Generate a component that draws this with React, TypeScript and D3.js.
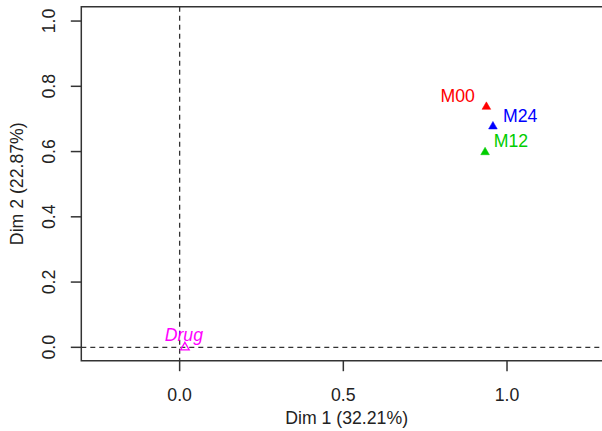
import React from "react";
import * as d3 from "d3";

const labels = ["M00", "M24", "M12", "Drug"];
const dim1 = [0.937, 0.957, 0.933, 0.016];
const dim2 = [0.737, 0.677, 0.598, 0.0];
const colors = ["#FF0000", "#0000FF", "#00CD00", "#FF00FF"];
const filled = [true, true, true, false];
const xTicks = [0, 0.5, 1.0];
const yTicks = [0, 0.2, 0.4, 0.6, 0.8, 1.0];
const xTitle = "Dim 1 (32.21%)";
const yTitle = "Dim 2 (22.87%)";

// label offsets (px) and anchors – styling only
const labelDx = [-11.5, 10, 8.7, -1];
const labelDy = [-5, -4.8, -4.9, -6.6];
const labelAnchor = ["end", "start", "start", "middle"];
const labelItalic = [false, false, false, true];

const W = 602;
const H = 431;
const left = 81.3;
const right = 612;
const top = 6.7;
const bottom = 360.7;
const font = "'Liberation Sans', Arial, sans-serif";
const fs = 17.7;

export default function App() {
  const x = d3.scaleLinear().domain([-0.3004, 1.3207]).range([left, right]);
  const y = d3.scaleLinear().domain([-0.041, 1.044]).range([bottom, top]);
  const tri = d3.symbol().type(d3.symbolTriangle).size(32.5)();
  const axisColor = "#333";
  return (
    <svg
      width={W}
      height={H}
      style={{ position: "fixed", left: 0, top: 0, background: "#fff" }}
      fontFamily={font}
    >
      <rect x={0} y={0} width={W} height={H} fill="#fff" />
      {/* dashed reference lines */}
      <line x1={left} x2={right} y1={y(0)} y2={y(0)} stroke={axisColor} strokeWidth={1.3} strokeDasharray="5,4" />
      <line x1={x(0)} x2={x(0)} y1={top} y2={bottom} stroke={axisColor} strokeWidth={1.3} strokeDasharray="5,4" />
      {/* box */}
      <path
        d={`M${right},${top}H${left}V${bottom}H${right}`}
        fill="none"
        stroke={axisColor}
        strokeWidth={1.5}
      />
      {/* x ticks */}
      {xTicks.map((t) => (
        <g key={"xt" + t}>
          <line x1={x(t)} x2={x(t)} y1={bottom} y2={bottom + 10.5} stroke={axisColor} strokeWidth={1.5} />
          <text x={x(t)} y={400.7} textAnchor="middle" fontSize={fs} fill="#222">
            {d3.format(".1f")(t)}
          </text>
        </g>
      ))}
      {/* y ticks */}
      {yTicks.map((t) => (
        <g key={"yt" + t}>
          <line x1={left} x2={left - 10.5} y1={y(t)} y2={y(t)} stroke={axisColor} strokeWidth={1.5} />
          <text
            transform={`translate(55,${y(t)}) rotate(-90)`}
            textAnchor="middle"
            fontSize={fs}
            fill="#222"
          >
            {d3.format(".1f")(t)}
          </text>
        </g>
      ))}
      {/* axis titles */}
      <text x={(left + right) / 2} y={424} textAnchor="middle" fontSize={fs} fill="#222">
        {xTitle}
      </text>
      <text
        transform={`translate(22.5,${(top + bottom) / 2}) rotate(-90)`}
        textAnchor="middle"
        fontSize={fs}
        fill="#222"
      >
        {yTitle}
      </text>
      {/* points */}
      {labels.map((lab, i) => {
        const px = x(dim1[i]);
        const py = y(dim2[i]);
        return (
          <g key={lab}>
            <path
              d={tri!}
              transform={`translate(${px},${py})`}
              fill={filled[i] ? colors[i] : "none"}
              stroke={colors[i]}
              strokeWidth={filled[i] ? 0.5 : 1.3}
            />
            <text
              x={px + labelDx[i]}
              y={py + labelDy[i]}
              textAnchor={labelAnchor[i]}
              fontSize={fs}
              fontStyle={labelItalic[i] ? "italic" : "normal"}
              fill={colors[i]}
            >
              {lab}
            </text>
          </g>
        );
      })}
    </svg>
  );
}
